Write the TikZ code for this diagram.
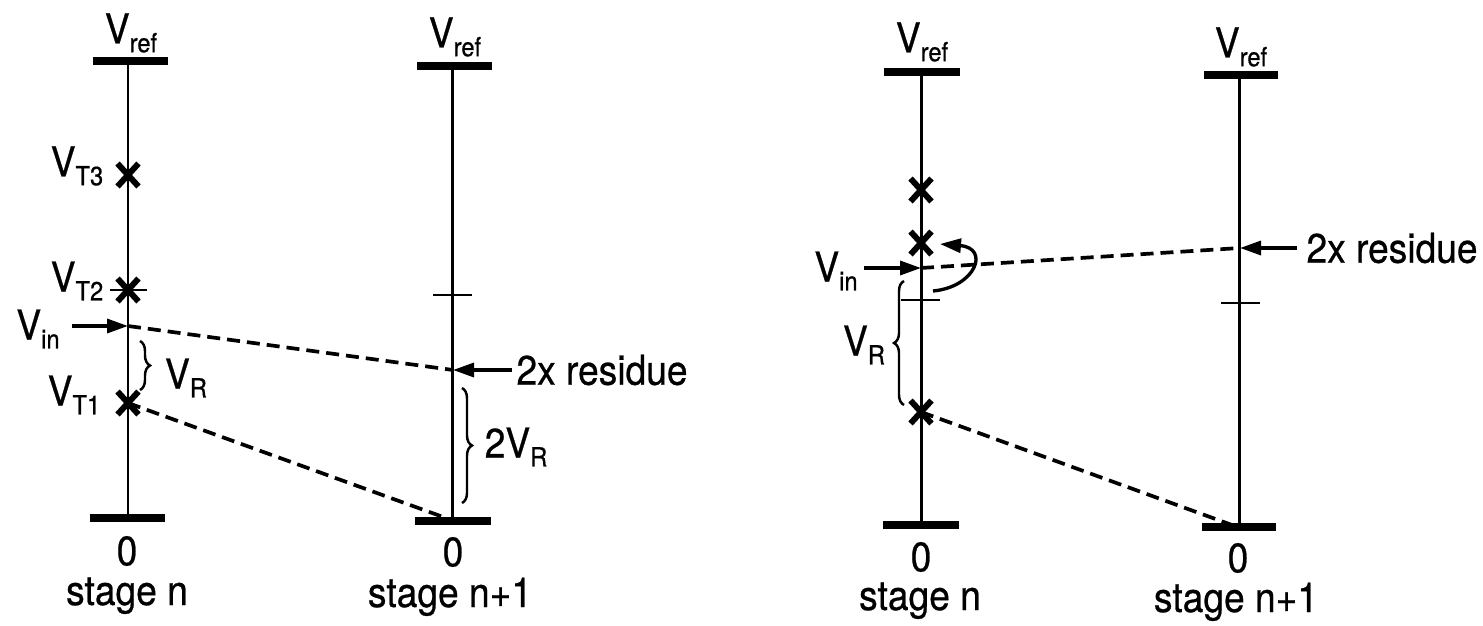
\documentclass[tikz,border=0pt]{standalone}
\usepackage{fontspec}
\setmainfont[FakeStretch=0.9,FakeBold=0.6]{TeX Gyre Heros}
\usetikzlibrary{arrows.meta,decorations.pathreplacing,shapes.misc}
\newcommand{\lowsub}[1]{\raisebox{-5pt}{\fontsize{15}{15}\selectfont #1}}
\begin{document}
\begin{tikzpicture}[x=0.02cm,y=-0.02cm,
  lbl/.style={font=\fontsize{23.5}{28}\selectfont, inner sep=0pt},
  axis/.style={line width=1.7pt},
  bar/.style={line width=5pt},
  tickline/.style={line width=1.4pt},
  xmark/.style={cross out, draw, line width=3.4pt, minimum width=0.3cm, minimum height=0.34cm, inner sep=0pt},
  dashline/.style={line width=2.1pt, dash pattern=on 0.26cm off 0.14cm},
  pointer/.style={line width=1.9pt, -{Triangle[length=0.42cm,width=0.28cm]}},
  bracestyle/.style={line width=1.4pt, decorate, decoration={brace, amplitude=0.2cm}}
]
\useasboundingbox (0,0) rectangle (1483,625);

% ---------- left panel, stage n ----------
\coordinate (Atop) at (128,61);
\coordinate (Abot) at (128,518);
\draw[axis] (Atop) -- (Abot);
\draw[bar] (93,61) -- (168,61);
\draw[bar] (90,518) -- (165,518);
\node[lbl] (Avref) at (131,33) {V\lowsub{ref}};
\draw[tickline] (110,290) -- (147,290);
\node[xmark] (At3) at (128,175) {};
\node[xmark] (At2) at (128,290) {};
\node[xmark] (At1) at (128,403) {};
\node[lbl] (Lt3) at (77,166) {V\lowsub{T3}};
\node[lbl] (Lt2) at (77,281) {V\lowsub{T2}};
\node[lbl] (Lt1) at (74,395) {V\lowsub{T1}};
\coordinate (Ain) at (128,326);
\coordinate (AinTail) at (72,326);
\node[lbl] (Lin) at (38,329) {V\lowsub{in}};
\draw[pointer] (AinTail) -- (Ain);
\coordinate (AbrT) at (140,341);
\coordinate (AbrB) at (140,390);
\draw[bracestyle] (AbrT) -- (AbrB);
\node[lbl] (LvR) at (186,378) {V\lowsub{R}};
\node[lbl] (A0) at (127,551) {0};
\node[lbl, anchor=base] (Ast) at (127,605) {stage n};

% ---------- left panel, stage n+1 ----------
\coordinate (Btop) at (452,66);
\coordinate (Bbot) at (452,521);
\draw[axis] (Btop) -- (Bbot);
\draw[bar] (417,66) -- (492,66);
\draw[bar] (415,521) -- (491,521);
\node[lbl] (Bvref) at (455,37) {V\lowsub{ref}};
\draw[tickline] (433,295) -- (472,295);
\coordinate (Bres) at (453,370);
\coordinate (BresTail) at (512,370);
\draw[pointer] (BresTail) -- (Bres);
\node[lbl] (Bresl) at (602,370) {2x residue};
\coordinate (BbrT) at (462,388);
\coordinate (BbrB) at (462,503);
\draw[bracestyle] (BbrT) -- (BbrB);
\node[lbl] (L2vR) at (516,447) {2V\lowsub{R}};
\node[lbl] (B0) at (453,552) {0};
\node[lbl, anchor=base] (Bst) at (450,607) {stage n+1};
\coordinate (Bend) at (446,518);
\draw[dashline] (Ain) -- (Bres);
\draw[dashline] (At1.center) -- (Bend);

% ---------- right panel, stage n ----------
\coordinate (Ctop) at (921,72);
\coordinate (Cbot) at (921,525);
\draw[axis] (Ctop) -- (Cbot);
\draw[bar] (884,72) -- (960,72);
\draw[bar] (883,525) -- (959,525);
\node[lbl] (Cvref) at (922,42) {V\lowsub{ref}};
\node[xmark] (Ct3) at (921,190) {};
\node[xmark] (Ct2) at (921,243) {};
\node[xmark] (Ct1) at (921,412) {};
\draw[tickline] (901,300) -- (940,300);
\coordinate (Cin) at (921,268);
\coordinate (CinTail) at (864,268);
\node[lbl] (Cinl) at (836,271) {V\lowsub{in}};
\draw[pointer] (CinTail) -- (Cin);
\coordinate (Ccurv) at (933,291);
\coordinate (Ccurh) at (940,244);
\draw[pointer] (Ccurv) .. controls (976,287) and (990,248) .. (Ccurh);
\coordinate (CbrB) at (904,405);
\coordinate (CbrT) at (904,281);
\draw[bracestyle] (CbrB) -- (CbrT);
\node[lbl] (CvR) at (864,345) {V\lowsub{R}};
\node[lbl] (C0) at (921,557) {0};
\node[lbl, anchor=base] (Cst) at (920,610) {stage n};

% ---------- right panel, stage n+1 ----------
\coordinate (Dtop) at (1239,75);
\coordinate (Dbot) at (1239,527);
\draw[axis] (Dtop) -- (Dbot);
\draw[bar] (1204,75) -- (1278,75);
\draw[bar] (1202,527) -- (1276,527);
\node[lbl] (Dvref) at (1241,47) {V\lowsub{ref}};
\draw[tickline] (1221,303) -- (1260,303);
\coordinate (Dres) at (1240,248);
\coordinate (DresTail) at (1297,248);
\draw[pointer] (DresTail) -- (Dres);
\node[lbl] (Dresl) at (1392,248) {2x residue};
\node[lbl] (D0) at (1238,558) {0};
\node[lbl, anchor=base] (Dst) at (1236,612) {stage n+1};
\coordinate (Dend) at (1232,525);
\draw[dashline] (Cin) -- (Dres);
\draw[dashline] (Ct1.center) -- (Dend);
\end{tikzpicture}
\end{document}
